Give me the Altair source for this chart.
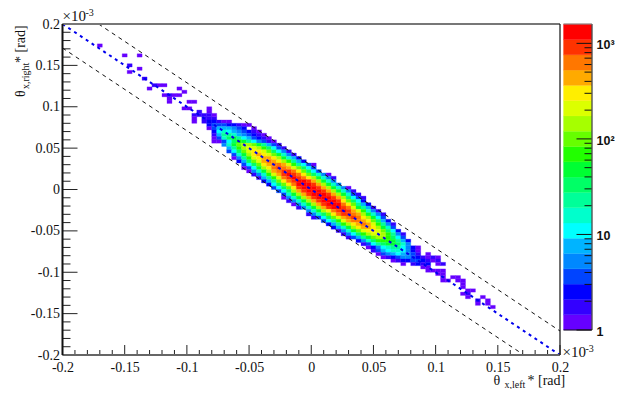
import altair as alt
import pandas as pd

# --- histogram cells: (row from top, first column, level per column) ---
# level characters: 0-9,a-j = colour band 0..19, '.' = empty
ROWS = [
    (28, 28, "111"),
    (29, 26, "0.122100"),
    (30, 29, "233322100"),
    (31, 29, "03555432.0"),
    (32, 30, "2676543210"),
    (33, 30, "15887543210"),
    (34, 30, "0379a8653210"),
    (35, 30, "00369ba864310"),
    (36, 28, "....47acddca8531."),
    (37, 29, "....58bdeedb9631."),
    (38, 30, "...369ceffec9641."),
    (39, 31, "...37adfgfeca741."),
    (40, 32, "..048befggfda752."),
    (41, 33, "..259ceghgfdb852."),
    (42, 34, "..369cfghhgeb8630"),
    (43, 35, "..36adfhihgec963."),
    (44, 36, ".047adghiihfc963."),
    (45, 37, ".147begijihfc9740"),
    (46, 38, ".158behijihfda741"),
    (47, 39, ".258cfhijjigda74."),
    (48, 40, ".269cfhjjjigda74."),
    (49, 41, ".369cfijjjigda740"),
    (50, 42, ".369dgijjjigda741"),
    (51, 43, ".37adgijjjigda731"),
    (52, 44, "047adgijjjigd9631"),
    (53, 45, "147adgijjjifc962."),
    (54, 46, "047adgijjjhfc852."),
    (55, 47, "147adgijjihea851."),
    (56, 48, ".47adfhijigeb741."),
    (57, 49, "1479cfhiihgda741."),
    (58, 50, "1369ceghihfda63.."),
    (59, 51, ".368beghhgfc952.."),
    (60, 52, ".258bdfghgeb841.."),
    (61, 53, ".257adfggfda73..."),
    (62, 54, ".147aceffec962..."),
    (63, 55, ".1469bdeedb841..."),
    (64, 56, ".1358acddb963...."),
    (65, 57, "..2479bbba852...."),
    (66, 58, "..13689aa974....."),
    (67, 61, "02467886420"),
    (68, 62, "1356776420"),
    (69, 63, "034565431.0"),
    (70, 64, "012344321010"),
    (71, 66, "0122332101"),
    (72, 68, "0.1212.01"),
]
# isolated cells in the two tails: column, row, level
TAIL_I = [7, 12, 15, 13, 15, 13, 16, 18, 19, 20, 17, 23, 24, 20, 21, 22, 23, 21, 21, 25, 26, 24, 25,
          26, 27, 28, 26, 27, 29, 29, 27, 28, 29, 30, 36,
          72, 73, 73, 74, 75, 76, 75, 76, 76, 78, 79, 76, 77, 79, 80, 80, 80, 81, 82, 80, 81, 81,
          84, 83, 85, 83, 85, 86]
TAIL_J = [6, 9, 9, 12, 13, 14, 16, 18, 18, 18, 19, 19, 20, 21, 21, 21, 21, 22, 23, 23, 23, 25, 25,
          27, 27, 27, 28, 26, 26, 25, 27, 27, 27, 27, 43,
          73, 73, 74, 74, 74, 74, 75, 75, 76, 76, 76, 77, 77, 77, 77, 78, 79, 80, 80, 81, 81, 82,
          82, 83, 83, 84, 84, 85]
TAIL_L = [0, 0, 0, 1, 0, 0, 1, 1, 0, 0, 0, 0, 0, 0, 1, 0, 0, 0, 0, 0, 0, 0, 0,
          1, 1, 1, 0, 1, 0, 0, 1, 1, 1, 0, 0,
          0, 0, 0, 0, 0, 0, 0, 0, 0, 0, 0, 0, 0, 0, 0, 0, 0, 0, 0, 0, 1, 0,
          0, 1, 0, 0, 0, 0]

BIN = 0.004
LEVEL_STEP = 0.16
PALETTE = ["#6600ff", "#3300ff", "#0000ff", "#0044ff", "#0088ff", "#00b4ff", "#00ffff", "#00ffcc",
           "#00ff99", "#00ff66", "#00ff33", "#22ff00", "#66ff00", "#a6ff00", "#dcff00", "#ffee00",
           "#ffaa00", "#ff7700", "#ff3300", "#ff0000"]
X_MAJOR = [-0.2, -0.15, -0.1, -0.05, 0, 0.05, 0.1, 0.15, 0.2]
X_MINOR = [-0.19, -0.18, -0.17, -0.16, -0.14, -0.13, -0.12, -0.11, -0.09, -0.08, -0.07, -0.06,
           -0.04, -0.03, -0.02, -0.01, 0.01, 0.02, 0.03, 0.04, 0.06, 0.07, 0.08, 0.09,
           0.11, 0.12, 0.13, 0.14, 0.16, 0.17, 0.18, 0.19]
UPPER_X = [-0.171, 0.2]
UPPER_Y = [0.2, -0.171]
LOWER_X = [-0.2, 0.171]
LOWER_Y = [0.171, -0.2]
MID_X = [-0.2, 0.2]
MID_Y = [0.2, -0.2]
CB_MAJOR = [1, 10, 100, 1000]
CB_LABELS = ["1", "10", "10²", "10³"]
CB_MINOR = [2, 3, 4, 5, 6, 7, 8, 9, 20, 30, 40, 50, 60, 70, 80, 90, 200, 300, 400, 500, 600, 700, 800, 900]
CB_TOP = 1594

cells = {}
for j, i0, s in ROWS:
    for k, c in enumerate(s):
        if c != ".":
            cells[(i0 + k, j)] = int(c, 36)
for i, j, lev in zip(TAIL_I, TAIL_J, TAIL_L):
    cells.setdefault((i, j), lev)

heat = pd.DataFrame([
    {"x0": -0.2 + BIN * i, "x1": -0.2 + BIN * (i + 1),
     "y0": 0.2 - BIN * (j + 1), "y1": 0.2 - BIN * j,
     "count": 10 ** ((lev + 0.5) * LEVEL_STEP)}
    for (i, j), lev in cells.items()
])
edges = [10 ** (k * LEVEL_STEP) for k in range(1, 20)]
bands = pd.DataFrame({
    "lo": [10 ** (k * LEVEL_STEP) for k in range(20)],
    "hi": [min(10 ** ((k + 1) * LEVEL_STEP), CB_TOP) for k in range(20)],
    "count": [10 ** ((k + 0.5) * LEVEL_STEP) for k in range(20)],
})

W, H = 497.5, 331
CB_H = 306
SERIF = "Liberation Serif"
SANS = "Liberation Sans"

xs = alt.Scale(domain=[-0.2, 0.2], nice=False, zero=False)
ys = alt.Scale(domain=[-0.2, 0.2], nice=False, zero=False)
cs = alt.Scale(type="threshold", domain=edges, range=PALETTE)
cb_y = alt.Scale(type="log", domain=[1, CB_TOP], range=[CB_H, 0], nice=False)

LBL = "replace(datum.label, '\u2212', '-')"
XAX = alt.Axis(values=X_MAJOR, format="~g", labelExpr=LBL, ticks=False, domain=False, grid=False,
               labelFont=SERIF, labelFontSize=14, labelColor="#111", labelPadding=5,
               labelFlush=False, labelOverlap=False)
YAX = alt.Axis(values=X_MAJOR, format="~g", labelExpr=LBL, ticks=False, domain=False, grid=False,
               labelFont=SERIF, labelFontSize=14, labelColor="#111", labelPadding=3,
               labelFlush=False, labelOverlap=False)
heat_layer = alt.Chart(heat).mark_rect(strokeWidth=0.3).encode(
    x=alt.X("x0:Q", scale=xs, title=None, axis=XAX),
    x2="x1:Q",
    y=alt.Y("y0:Q", scale=ys, title=None, axis=YAX),
    y2="y1:Q",
    color=alt.Color("count:Q", scale=cs, legend=None),
    stroke=alt.Color("count:Q", scale=cs, legend=None),
)


def guide_line(px, py, color, dash, width):
    return alt.Chart(pd.DataFrame({"x": px, "y": py})).mark_line(
        color=color, strokeDash=dash, strokeWidth=width, clip=True
    ).encode(x=alt.X("x:Q", scale=xs, title=None, axis=XAX), y=alt.Y("y:Q", scale=ys, axis=None))


def x_ticks(values, length):
    return alt.Chart(pd.DataFrame({"v": values})).mark_rule(color="#222", strokeWidth=1).encode(
        x=alt.X("v:Q", scale=xs, title=None, axis=XAX), y=alt.value(H), y2=alt.value(H - length))


def y_ticks(values, length):
    return alt.Chart(pd.DataFrame({"v": values})).mark_rule(color="#222", strokeWidth=1).encode(
        y=alt.Y("v:Q", scale=ys, axis=None), x=alt.value(0), x2=alt.value(length))


def frame(x1, y1, x2, y2, color, width):
    return alt.Chart(pd.DataFrame({"a": [0]})).mark_rule(color=color, strokeWidth=width).encode(
        x=alt.value(x1), x2=alt.value(x2), y=alt.value(y1), y2=alt.value(y2))


def label(text, x, y, size, angle=0, align="left", font=SERIF):
    return alt.Chart(pd.DataFrame({"a": [0]})).mark_text(
        text=text, font=font, fontSize=size, angle=angle, align=align, baseline="alphabetic", color="#111"
    ).encode(x=alt.value(x), y=alt.value(y))


cb_rects = alt.Chart(bands).mark_rect(strokeWidth=0.3).encode(
    x=alt.value(501), x2=alt.value(529),
    y=alt.Y("lo:Q", scale=cb_y, axis=None), y2="hi:Q",
    color=alt.Color("count:Q", scale=cs, legend=None),
    stroke=alt.Color("count:Q", scale=cs, legend=None),
)
cb_major = alt.Chart(pd.DataFrame({"v": CB_MAJOR})).mark_rule(color="#111").encode(
    x=alt.value(514), x2=alt.value(529), y=alt.Y("v:Q", scale=cb_y, axis=None))
cb_minor = alt.Chart(pd.DataFrame({"v": CB_MINOR})).mark_rule(color="#111").encode(
    x=alt.value(522), x2=alt.value(529), y=alt.Y("v:Q", scale=cb_y, axis=None))
cb_text = alt.Chart(pd.DataFrame({"v": CB_MAJOR, "t": CB_LABELS})).mark_text(
    font=SANS, fontSize=12.5, fontWeight="bold", align="left", baseline="middle", color="#111", dy=2
).encode(x=alt.value(534), y=alt.Y("v:Q", scale=cb_y, axis=None), text="t:N")

chart = alt.layer(
    heat_layer,
    guide_line(UPPER_X, UPPER_Y, "#111", [4, 4], 1),
    guide_line(LOWER_X, LOWER_Y, "#111", [4, 4], 1),
    guide_line(MID_X, MID_Y, "#0000ee", [3, 4], 2),
    x_ticks(X_MAJOR, 10), x_ticks(X_MINOR, 5),
    y_ticks(X_MAJOR, 15), y_ticks(X_MINOR, 8),
    frame(0, 0, W, 0, "#777", 2),
    frame(0, H, W, H, "#666", 2),
    frame(0, 0, 0, H, "#111", 2),
    frame(W, 0, W, H, "#111", 1.2),
    cb_rects, cb_major, cb_minor, cb_text,
    frame(529.5, 0, 529.5, CB_H, "#111", 1),
    frame(501, 0, 529.5, 0, "#777", 1),
    frame(501, CB_H, 529.5, CB_H, "#111", 1),
    label("×10", 0, -3, 15),
    label("-3", 23, -8, 10),
    label("×10", 500, 333, 15),
    label("-3", 523, 328, 10),
    label("θ", 431, 361, 14),
    label("x,left", 442, 364, 10),
    label("* [rad]", 465, 361, 14),
    label("θ", -37.5, 73, 14, angle=270),
    label("x,right", -33.5, 65, 10, angle=270),
    label("* [rad]", -37.5, 39, 14, angle=270),
).resolve_scale(y="independent").properties(
    width=W, height=H,
    padding={"left": 54.5, "top": 16, "right": 55, "bottom": 34},
    autosize=alt.AutoSizeParams(type="none"),
    background="white",
).configure_view(stroke=None)

chart.save("out.html", embed_options={"renderer": "svg", "actions": False})
